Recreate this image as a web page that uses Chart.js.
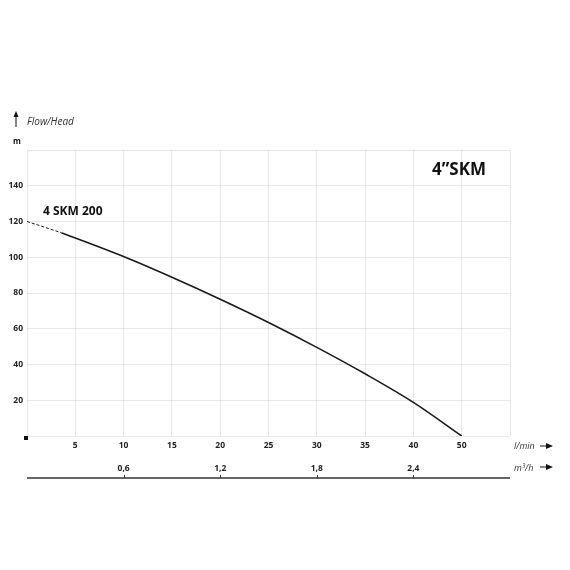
<!DOCTYPE html>
<html>
<head>
<meta charset="utf-8">
<script src="https://cdn.jsdelivr.net/npm/chart.js@4.4.0/dist/chart.umd.min.js"></script>
<style>
  html, body { margin: 0; padding: 0; background: #fff; }
  #wrap { width: 570px; height: 570px; }
</style>
</head>
<body>
<div id="wrap"><canvas id="chart"></canvas></div>
<script>
// flow positions along the l/min axis (grid steps of 5) and head in m
const flowPos = [0, 3.6, 5, 10, 15, 20, 25, 30, 35, 40, 45];
const headM = [120, 113.6, 110.8, 100.4, 88.8, 76.5, 63.5, 49.6, 34.8, 18.8, 0];
const flowTickLabels = ["", "5", "10", "15", "20", "25", "30", "35", "40", "50", ""];
const cubicTicks = [0.6, 1.2, 1.8, 2.4];
const headTicks = [20, 40, 60, 80, 100, 120, 140];

const tickFont = { family: "Open Sans", size: 8.5, weight: "bold" };
const gridStyle = { color: "rgba(0,0,0,0.09)", lineWidth: 1 };

const extras = {
    id: "extras",
    afterDraw(chart) {
        const ctx = chart.ctx;
        const x = chart.scales.x;
        const x2 = chart.scales.x2;
        const y = chart.scales.y;
        ctx.save();
        ctx.fillStyle = "#111";
        ctx.strokeStyle = "#111";

        // up arrow + Flow/Head
        ctx.lineWidth = 1;
        ctx.beginPath();
        ctx.moveTo(16, 127);
        ctx.lineTo(16, 115);
        ctx.stroke();
        ctx.beginPath();
        ctx.moveTo(16, 111);
        ctx.lineTo(13.5, 117);
        ctx.lineTo(18.5, 117);
        ctx.closePath();
        ctx.fill();
        ctx.font = "italic 10px 'Open Sans'";
        ctx.textBaseline = "middle";
        ctx.fillStyle = "#333";
        ctx.fillText("Flow/Head", 27, 122);
        ctx.fillStyle = "#111";
        ctx.font = "bold 8px 'Open Sans'";
        ctx.fillText("m", 13, 142);

        // titles
        ctx.font = "bold 17px 'Open Sans'";
        ctx.fillText("4\u201DSKM", 432, 170);
        ctx.font = "bold 12px 'Open Sans'";
        ctx.fillText("4 SKM 200", 43, 212);

        // unit labels with arrows
        ctx.font = "italic 9px 'Open Sans'";
        ctx.fillStyle = "#333";
        ctx.fillText("l/min", 514, 446);
        ctx.fillText("m\u00B3/h", 514, 468);
        ctx.fillStyle = "#111";
        [446, 467].forEach(function (ay) {
            ctx.beginPath();
            ctx.moveTo(540, ay);
            ctx.lineTo(548, ay);
            ctx.stroke();
            ctx.beginPath();
            ctx.moveTo(553, ay);
            ctx.lineTo(546, ay - 3);
            ctx.lineTo(546, ay + 3);
            ctx.closePath();
            ctx.fill();
        });

        // m3/h baseline with tick marks
        const lineY = 478;
        ctx.strokeStyle = "#333";
        ctx.lineWidth = 1.5;
        ctx.beginPath();
        ctx.moveTo(x.left, lineY);
        ctx.lineTo(x.right, lineY);
        ctx.stroke();
        ctx.lineWidth = 1;
        cubicTicks.forEach(function (v) {
            const px = Math.round(x2.getPixelForValue(v)) + 0.5;
            ctx.beginPath();
            ctx.moveTo(px, lineY - 3);
            ctx.lineTo(px, lineY);
            ctx.stroke();
        });

        // small square at the origin
        ctx.fillStyle = "#111";
        ctx.fillRect(x.getPixelForValue(0) - 3, y.getPixelForValue(0), 4, 4);
        ctx.restore();
    }
};

new Chart(document.getElementById("chart"), {
    type: "line",
    data: {
        datasets: [{
            label: "4 SKM 200",
            data: flowPos.map((f, i) => ({ x: f, y: headM[i] })),
            borderColor: "#1a1a1a",
            borderWidth: 1.6,
            pointRadius: 0,
            cubicInterpolationMode: "monotone",
            fill: false,
            segment: {
                borderDash: (c) => (c.p0.parsed.x < 3 ? [3, 2] : undefined),
                borderWidth: (c) => (c.p0.parsed.x < 3 ? 1 : 1.6)
            }
        }]
    },
    plugins: [extras],
    options: {
        responsive: true,
        maintainAspectRatio: false,
        animation: false,
        layout: { padding: { top: 150, left: 0, right: 60, bottom: 62 } },
        plugins: { legend: { display: false }, tooltip: { enabled: false } },
        scales: {
            x: {
                type: "linear",
                position: "bottom",
                min: 0,
                max: 50,
                afterFit: (s) => { s.height = 22; },
                ticks: {
                    stepSize: 5,
                    padding: 4,
                    color: "#222",
                    font: tickFont,
                    maxRotation: 0,
                    autoSkip: false,
                    callback: (v) => flowTickLabels[Math.round(v / 5)]
                },
                grid: { ...gridStyle, drawTicks: false },
                border: { display: false }
            },
            x2: {
                type: "linear",
                position: "bottom",
                min: 0,
                max: 3,
                afterFit: (s) => { s.height = 50; },
                afterBuildTicks: (s) => { s.ticks = cubicTicks.map((v) => ({ value: v })); },
                ticks: {
                    padding: 5,
                    color: "#222",
                    font: tickFont,
                    maxRotation: 0,
                    autoSkip: false,
                    callback: (v) => v.toFixed(1).replace(".", ",")
                },
                grid: { display: false, drawTicks: false },
                border: { display: false }
            },
            y: {
                min: 0,
                max: 160,
                afterFit: (s) => { s.width = 27; },
                ticks: {
                    stepSize: 20,
                    padding: 4,
                    color: "#222",
                    font: tickFont,
                    callback: (v) => (headTicks.includes(v) ? String(v) : "")
                },
                grid: { ...gridStyle, drawTicks: false },
                border: { display: false }
            }
        }
    }
});
</script>
</body>
</html>
